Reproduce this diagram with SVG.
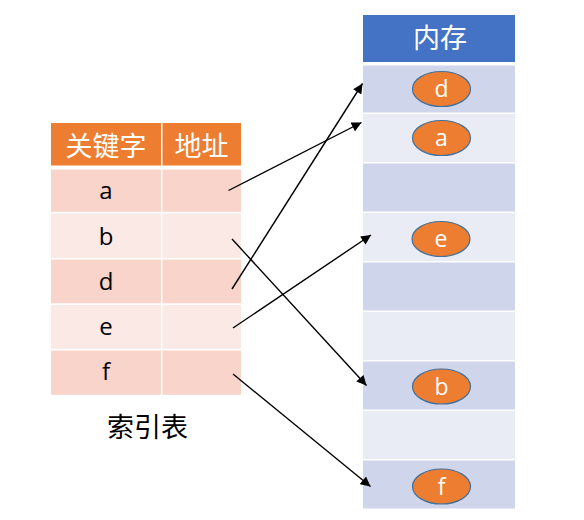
<svg xmlns="http://www.w3.org/2000/svg" width="584" height="520" viewBox="0 0 584 520">
<defs>
<style>
.th{fill:#ED7D31}
.r1{fill:#F8D4CB}
.r2{fill:#FBE9E6}
.mh{fill:#4472C4}
.m1{fill:#CFD5EA}
.m2{fill:#E9EBF5}
.ov{fill:#ED7D31;stroke:#41719C;stroke-width:1.2}
.ht{font-family:"Noto Sans CJK SC","Noto Sans",sans-serif;font-size:27px;fill:#FFFFFF;text-anchor:middle}
.kt{font-family:"Open Sans","Noto Sans",sans-serif;font-size:24px;fill:#000000;text-anchor:middle}
.ot{font-family:"Open Sans","Noto Sans",sans-serif;font-size:23px;fill:#FFFFFF;text-anchor:middle}
.cap{font-family:"Noto Sans CJK SC","Noto Sans",sans-serif;font-size:27px;fill:#000000;text-anchor:middle}
.ln{stroke:#000000;stroke-width:1.4;fill:none;marker-end:url(#ah)}
</style>
<marker id="ah" viewBox="0 0 10 10" refX="10" refY="5" markerWidth="7.5" markerHeight="7" markerUnits="strokeWidth" orient="auto">
<path d="M0,0 L10,5 L0,10 z" fill="#000000"/>
</marker>
</defs>
<rect width="584" height="520" fill="#FFFFFF"/>
<g id="index-table">
<rect class="th" x="51" y="123" width="110" height="42.5"/>
<rect class="th" x="162.5" y="123" width="78.5" height="42.5"/>
<text class="ht" x="106" y="155.5">关键字</text>
<text class="ht" x="201.5" y="155.5">地址</text>
<g id="row-a"><rect class="r1" x="51" y="169.5" width="110" height="42.3"/><rect class="r1" x="162.5" y="169.5" width="78.5" height="42.3"/><text class="kt" x="106" y="199">a</text></g>
<g id="row-b"><rect class="r2" x="51" y="213.5" width="110" height="44.5"/><rect class="r2" x="162.5" y="213.5" width="78.5" height="44.5"/><text class="kt" x="106" y="244.5">b</text></g>
<g id="row-d"><rect class="r1" x="51" y="259.5" width="110" height="43.8"/><rect class="r1" x="162.5" y="259.5" width="78.5" height="43.8"/><text class="kt" x="106" y="290">d</text></g>
<g id="row-e"><rect class="r2" x="51" y="305" width="110" height="43.8"/><rect class="r2" x="162.5" y="305" width="78.5" height="43.8"/><text class="kt" x="106" y="335">e</text></g>
<g id="row-f"><rect class="r1" x="51" y="350.5" width="110" height="44.3"/><rect class="r1" x="162.5" y="350.5" width="78.5" height="44.3"/><text class="kt" x="106" y="380">f</text></g>
</g>
<text class="cap" x="147.5" y="436.5">索引表</text>
<g id="memory">
<rect class="mh" x="363" y="15" width="152" height="47"/>
<text class="ht" x="440" y="48">内存</text>
<rect class="m1" x="363" y="65.5" width="152" height="47"/>
<rect class="m2" x="363" y="114" width="152" height="48"/>
<rect class="m1" x="363" y="163.5" width="152" height="48"/>
<rect class="m2" x="363" y="213" width="152" height="48"/>
<rect class="m1" x="363" y="262.5" width="152" height="48"/>
<rect class="m2" x="363" y="312" width="152" height="48"/>
<rect class="m1" x="363" y="361.5" width="152" height="48"/>
<rect class="m2" x="363" y="411" width="152" height="48"/>
<rect class="m1" x="363" y="460.5" width="152" height="48"/>
</g>
<g id="mem-d"><ellipse class="ov" cx="441.5" cy="89" rx="29" ry="17.5"/><text class="ot" x="441.5" y="97">d</text></g>
<g id="mem-a"><ellipse class="ov" cx="441.5" cy="138" rx="29" ry="17.5"/><text class="ot" x="441.5" y="146">a</text></g>
<g id="mem-e"><ellipse class="ov" cx="441" cy="239" rx="29" ry="17.5"/><text class="ot" x="441" y="247">e</text></g>
<g id="mem-b"><ellipse class="ov" cx="441.5" cy="386.5" rx="29" ry="17.5"/><text class="ot" x="441.5" y="394.5">b</text></g>
<g id="mem-f"><ellipse class="ov" cx="441.5" cy="486.5" rx="29" ry="17.5"/><text class="ot" x="441.5" y="494.5">f</text></g>
<g id="connectors">
<line class="ln" x1="228.5" y1="190.5" x2="361.5" y2="122.5"/>
<line class="ln" x1="232" y1="239" x2="366.5" y2="385.5"/>
<line class="ln" x1="232" y1="289" x2="362.5" y2="83.5"/>
<line class="ln" x1="233" y1="328" x2="371" y2="235"/>
<line class="ln" x1="233" y1="374" x2="370.5" y2="486.5"/>
</g>
</svg>
